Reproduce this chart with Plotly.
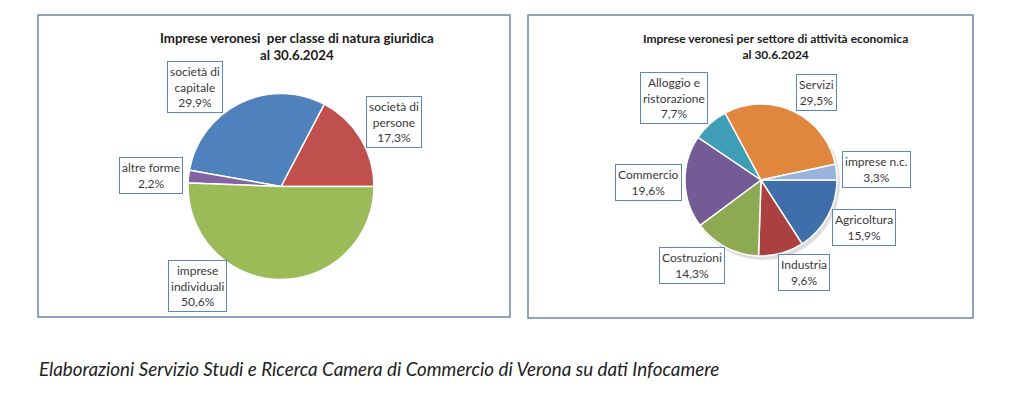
import plotly.graph_objects as go

W, H = 1024, 399

# ---- data ----
left_title = "Imprese veronesi  per classe di natura giuridica<br>al 30.6.2024"
left_categories = ["società di persone", "società di capitale", "altre forme", "imprese individuali"]
left_box_labels = ["società di<br>persone", "società di<br>capitale", "altre forme", "imprese<br>individuali"]
left_values = [17.3, 29.9, 2.2, 50.6]
left_colors = ["#C0504D", "#4F81BD", "#8064A2", "#9BBB59"]

right_title = "Imprese veronesi per settore di attività economica<br>al 30.6.2024"
right_categories = ["Agricoltura", "Industria", "Costruzioni", "Commercio",
                    "Alloggio e ristorazione", "Servizi", "imprese n.c."]
right_box_labels = ["Agricoltura", "Industria", "Costruzioni", "Commercio",
                    "Alloggio e<br>ristorazione", "Servizi", "imprese n.c."]
right_values = [15.9, 9.6, 14.3, 19.6, 7.7, 29.5, 3.3]
right_colors = ["#3F6EAA", "#AA413E", "#8DAA52", "#745B96", "#3F9DB5", "#E0873D", "#97B3DB"]

footer = "Elaborazioni Servizio Studi e Ricerca Camera di Commercio di Verona su dati Infocamere"

FONT = "Lato"
TXT = "#3A3A3A"
BOXC = "#5C86BD"


def pct(v):
    return f"{v:.1f}".replace(".", ",") + "%"


def dom(cx, cy, r):
    return dict(x=[(cx - r) / W, (cx + r) / W], y=[1 - (cy + r) / H, 1 - (cy - r) / H])


fig = go.Figure()

# counterclockwise pies in plotly: the first slice ends at `rotation`
left_rot = 90 - 360 * left_values[0] / sum(left_values)

fig.add_trace(go.Pie(
    labels=left_categories, values=left_values, sort=False,
    direction="counterclockwise", rotation=left_rot,
    marker=dict(colors=left_colors, line=dict(color="white", width=1.5)),
    textinfo="none", hoverinfo="label+percent",
    domain=dom(281, 186.5, 93), showlegend=False,
))

fig.add_trace(go.Pie(
    labels=right_categories, values=right_values, sort=False,
    direction="clockwise", rotation=90,
    marker=dict(colors=right_colors, line=dict(color="white", width=1.5)),
    textinfo="none", hoverinfo="label+percent",
    domain=dom(761, 180, 76), showlegend=False,
))

shapes = [
    dict(type="rect", xref="paper", yref="paper",
         x0=38 / W, x1=510 / W, y0=1 - 317 / H, y1=1 - 15 / H,
         line=dict(color="#6E87A8", width=1.5), fillcolor="rgba(0,0,0,0)"),
    dict(type="rect", xref="paper", yref="paper",
         x0=528 / W, x1=973 / W, y0=1 - 318 / H, y1=1 - 15 / H,
         line=dict(color="#6E87A8", width=1.5), fillcolor="rgba(0,0,0,0)"),
    # soft shadow behind right pie
    dict(type="circle", xref="paper", yref="paper", layer="below",
         x0=(761 - 76 + 2) / W, x1=(761 + 76 + 3) / W,
         y0=1 - (180 + 76 + 4) / H, y1=1 - (180 - 76 + 2) / H,
         line=dict(width=0), fillcolor="rgba(0,0,0,0.13)"),
]

annotations = []


def title(text, cx, cy, size):
    annotations.append(dict(
        text=f"<b>{text}</b>", x=cx / W, y=1 - cy / H, xref="paper", yref="paper",
        xanchor="center", yanchor="middle", showarrow=False,
        font=dict(family=FONT, size=size, color="#1A1A1A"), align="center"))


title(left_title, 297, 46, 13.3)
title(right_title, 775, 46.5, 12)

left_pos = [(393.5, 122), (195, 87), (151, 175), (197, 286)]
right_pos = [(864, 227), (804, 272.5), (692, 265.5), (648, 182), (674, 97.5), (816, 92), (876, 169.5)]

for lab, v, (cx, cy) in zip(left_box_labels, left_values, left_pos):
    annotations.append(dict(
        text=f"{lab}<br>{pct(v)}", x=cx / W, y=1 - cy / H, xref="paper", yref="paper",
        xanchor="center", yanchor="middle", showarrow=False, align="center",
        font=dict(family=FONT, size=12, color=TXT),
        bgcolor="white", bordercolor=BOXC, borderwidth=1, borderpad=2))

for lab, v, (cx, cy) in zip(right_box_labels, right_values, right_pos):
    annotations.append(dict(
        text=f"{lab}<br>{pct(v)}", x=cx / W, y=1 - cy / H, xref="paper", yref="paper",
        xanchor="center", yanchor="middle", showarrow=False, align="center",
        font=dict(family=FONT, size=12, color=TXT),
        bgcolor="white", bordercolor=BOXC, borderwidth=1, borderpad=2))

annotations.append(dict(
    text=f"<i>{footer}</i>", x=37 / W, y=1 - 368 / H, xref="paper", yref="paper",
    xanchor="left", yanchor="middle", showarrow=False,
    font=dict(family=FONT, size=18.8, color="#222222")))

fig.update_layout(
    width=W, height=H, margin=dict(l=0, r=0, t=0, b=0),
    paper_bgcolor="white", plot_bgcolor="white",
    shapes=shapes, annotations=annotations,
)

fig.write_html("out.html", config={"displayModeBar": False},
               post_script="document.body.style.margin='0';document.body.style.overflow='hidden';")
